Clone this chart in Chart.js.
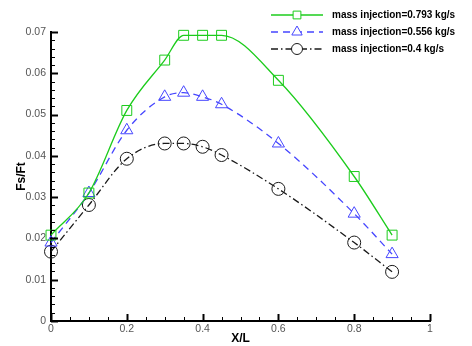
<!DOCTYPE html>
<html>
<head>
<meta charset="utf-8">
<script src="https://cdn.jsdelivr.net/npm/chart.js@4"></script>
<style>
html,body{margin:0;padding:0;background:#fff;}
#wrap{width:472px;height:346px;position:relative;}
</style>
</head>
<body>
<div id="wrap"><canvas id="c" width="472" height="346"></canvas></div>
<script>
const xPositions = [0, 0.1, 0.2, 0.3, 0.35, 0.4, 0.45, 0.6, 0.8, 0.9];
const seriesNames = ["mass injection=0.793 kg/s", "mass injection=0.556 kg/s", "mass injection=0.4 kg/s"];
const fs0793 = [0.0208, 0.031, 0.051, 0.0632, 0.0692, 0.0692, 0.0692, 0.0583, 0.035, 0.0208];
const fs0556 = [0.019, 0.031, 0.0462, 0.0543, 0.0553, 0.0543, 0.0525, 0.043, 0.026, 0.0162];
const fs04 = [0.0168, 0.0281, 0.0393, 0.043, 0.043, 0.0422, 0.0402, 0.032, 0.019, 0.0119];
const yTicks = [0, 0.01, 0.02, 0.03, 0.04, 0.05, 0.06, 0.07];
const xTicks = [0, 0.2, 0.4, 0.6, 0.8, 1];

function pts(ys){ return xPositions.map((x,i)=>({x:x, y:ys[i]})); }

const styles = [
  {color:'#1ccc1c', dash:[], point:'rect', r:7, lr:5.5},
  {color:'#4646ff', dash:[7,5], point:'triangle', r:7, lr:6},
  {color:'#1a1a1a', dash:[7,3,1.5,3], point:'circle', r:6.5, lr:5.5}
];
const values = [fs0793, fs0556, fs04];

const datasets = values.map((v,i)=>({
  label: seriesNames[i],
  data: pts(v),
  borderColor: styles[i].color,
  borderWidth: 1.3,
  borderDash: styles[i].dash,
  pointStyle: styles[i].point,
  pointRadius: styles[i].r,
  pointBorderWidth: 1,
  pointBorderColor: styles[i].color,
  pointBackgroundColor: 'rgba(0,0,0,0)',
  fill: false,
  clip: false,
  cubicInterpolationMode: 'monotone'
}));

const tickPlugin = {
  id: 'innerTicks',
  afterDraw(chart){
    const ctx = chart.ctx;
    const xs = chart.scales.x, ys = chart.scales.y;
    const left = chart.chartArea.left, bottom = chart.chartArea.bottom;
    ctx.save();
    ctx.strokeStyle = '#000';
    for (let k = 0; k <= 35; k++) {
      const v = k * 0.002;
      const major = k % 5 === 0;
      const py = Math.round(ys.getPixelForValue(v)) + 0.5;
      ctx.lineWidth = major ? 2 : 1;
      ctx.beginPath();
      ctx.moveTo(left, py);
      ctx.lineTo(left + (major ? 7 : 4), py);
      ctx.stroke();
    }
    for (let k = 0; k <= 20; k++) {
      const v = k * 0.05;
      const major = k % 4 === 0;
      const px = Math.round(xs.getPixelForValue(v)) + 0.5;
      ctx.lineWidth = major ? 2 : 1;
      ctx.beginPath();
      ctx.moveTo(px, bottom);
      ctx.lineTo(px, bottom - (major ? 7 : 4));
      ctx.stroke();
    }
    ctx.restore();
  }
};

const legendPlugin = {
  id: 'lineLegend',
  afterDraw(chart){
    const ctx = chart.ctx;
    const rows = [15, 32, 49];
    ctx.save();
    chart.data.datasets.forEach((ds, i) => {
      const y = rows[i];
      ctx.strokeStyle = ds.borderColor;
      ctx.lineWidth = 1.3;
      ctx.setLineDash(ds.borderDash);
      ctx.beginPath();
      ctx.moveTo(271, y);
      ctx.lineTo(323, y);
      ctx.stroke();
      ctx.setLineDash([]);
      ctx.lineWidth = 1;
      ctx.fillStyle = '#ffffff';
      Chart.helpers.drawPoint(ctx, {pointStyle: ds.pointStyle, radius: styles[i].lr, borderWidth: 1, rotation: 0}, 297, y);
      ctx.fillStyle = '#000';
      ctx.font = 'bold 10px "Liberation Sans", Arial, sans-serif';
      ctx.textBaseline = 'middle';
      ctx.textAlign = 'left';
      ctx.fillText(ds.label, 332, y + 0.5);
    });
    ctx.restore();
  }
};

new Chart(document.getElementById('c'), {
  type: 'line',
  data: { datasets: datasets },
  plugins: [tickPlugin, legendPlugin],
  options: {
    responsive: false,
    animation: false,
    layout: { padding: { left: 0, right: 42, top: 32, bottom: 0 } },
    plugins: { legend: { display: false }, tooltip: { enabled: false } },
    scales: {
      x: {
        type: 'linear', min: 0, max: 1,
        afterFit(s){ s.height = 25; },
        afterBuildTicks(s){ s.ticks = xTicks.map(v=>({value:v})); },
        grid: { display: true, drawOnChartArea: false, drawTicks: false },
        border: { display: true, color: '#000', width: 2 },
        ticks: { padding: 2, color: '#555', font: { family: '"Liberation Sans", Arial, sans-serif', size: 10.5 },
          maxRotation: 0, autoSkip: false, callback: v => String(Math.round(v*10)/10) },
        title: { display: true, text: 'X/L', color: '#000', padding: { top: 0, bottom: 0 },
          font: { family: '"Liberation Sans", Arial, sans-serif', size: 12, weight: 'bold' } }
      },
      y: {
        type: 'linear', min: 0, max: 0.07,
        afterFit(s){ s.width = 51; },
        afterBuildTicks(s){ s.ticks = yTicks.map(v=>({value:v})); },
        grid: { display: true, drawOnChartArea: false, drawTicks: false },
        border: { display: true, color: '#000', width: 2 },
        ticks: { padding: 5, color: '#555', font: { family: '"Liberation Sans", Arial, sans-serif', size: 10.5 },
          autoSkip: false, callback: v => String(Math.round(v*100)/100) },
        title: { display: true, text: 'Fs/Ft', color: '#000', padding: { top: 14, bottom: 0 },
          font: { family: '"Liberation Sans", Arial, sans-serif', size: 12, weight: 'bold' } }
      }
    }
  }
});
</script>
</body>
</html>
